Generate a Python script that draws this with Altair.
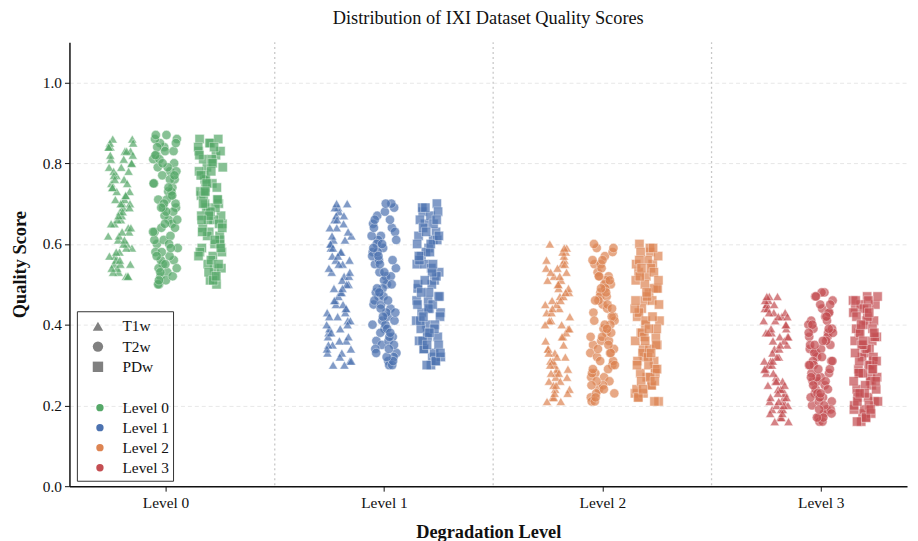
import altair as alt
import pandas as pd

levels = ["Level 0", "Level 1", "Level 2", "Level 3"]
modalities = ["T1w", "T2w", "PDw"]
level_colors = ["#55a868", "#4c72b0", "#dd8452", "#c44e52"]
modality_shapes = ["triangle-up", "circle", "square"]

# quality scores, per level and modality
l0_t1w = [0.62,0.81,0.55,0.73,0.68,0.84,0.52,0.77,0.59,0.70,0.86,0.64,0.53,0.79,0.71,0.57,0.83,0.66,0.75,0.60,0.54,0.82,0.69,0.78,0.63,0.58,0.85,0.72,0.56,0.80,0.67,0.74,0.52,0.61,0.84,0.76,0.65,0.70,0.55,0.81,0.59,0.73,0.86,0.68,0.53,0.78,0.62,0.57,0.83,0.71,0.64,0.79,0.54,0.75,0.66,0.85,0.60,0.77,0.69,0.56,0.82,0.72,0.58,0.80,0.63,0.74,0.52,0.67,0.84,0.61,0.76,0.55,0.70,0.65,0.83]
l0_t2w = [0.71,0.56,0.84,0.63,0.78,0.52,0.69,0.87,0.60,0.74,0.55,0.81,0.66,0.50,0.76,0.83,0.58,0.72,0.64,0.86,0.53,0.79,0.68,0.61,0.75,0.57,0.85,0.70,0.51,0.82,0.65,0.77,0.59,0.73,0.54,0.80,0.67,0.86,0.62,0.56,0.78,0.71,0.84,0.52,0.69,0.75,0.60,0.81,0.64,0.55,0.87,0.73,0.58,0.66,0.79,0.50,0.83,0.70,0.61,0.76,0.53,0.85,0.68,0.57,0.72,0.80,0.63,0.74,0.51,0.77,0.65,0.82,0.59,0.69,0.54]
l0_pdw = [0.68,0.83,0.54,0.76,0.61,0.85,0.72,0.50,0.79,0.65,0.57,0.81,0.70,0.63,0.86,0.52,0.74,0.67,0.80,0.59,0.71,0.55,0.84,0.66,0.77,0.62,0.51,0.73,0.82,0.69,0.58,0.75,0.64,0.86,0.53,0.78,0.60,0.70,0.83,0.56,0.67,0.74,0.62,0.79,0.51,0.72,0.65,0.85,0.58,0.69,0.76,0.54,0.81,0.63,0.71,0.66,0.57,0.84,0.73,0.60,0.68,0.77,0.52,0.75,0.64,0.80,0.70,0.55,0.67,0.82,0.61,0.73,0.59,0.78,0.66]
l1_t1w = [0.45,0.62,0.33,0.57,0.41,0.69,0.38,0.52,0.66,0.31,0.48,0.59,0.36,0.64,0.43,0.55,0.30,0.50,0.68,0.39,0.61,0.46,0.34,0.58,0.53,0.70,0.42,0.37,0.65,0.49,0.56,0.32,0.60,0.44,0.67,0.40,0.51,0.35,0.63,0.47,0.54,0.30,0.69,0.41,0.58,0.38,0.50,0.66,0.33,0.45,0.61,0.52,0.36,0.64,0.43,0.56,0.31,0.48,0.62,0.40,0.57,0.35,0.67,0.46,0.53,0.39,0.60,0.44,0.70,0.34,0.49,0.59,0.37,0.55,0.42]
l1_t2w = [0.52,0.36,0.64,0.41,0.58,0.31,0.47,0.69,0.39,0.55,0.44,0.62,0.33,0.50,0.67,0.37,0.59,0.45,0.30,0.53,0.63,0.40,0.48,0.70,0.35,0.57,0.42,0.61,0.32,0.51,0.46,0.66,0.38,0.54,0.43,0.60,0.30,0.49,0.65,0.36,0.56,0.41,0.68,0.34,0.52,0.45,0.62,0.39,0.58,0.31,0.47,0.64,0.37,0.55,0.43,0.70,0.33,0.50,0.60,0.40,0.46,0.57,0.35,0.53,0.66,0.38,0.44,0.61,0.32,0.49,0.56,0.42,0.59,0.34,0.48]
l1_pdw = [0.63,0.40,0.55,0.32,0.68,0.47,0.59,0.36,0.51,0.65,0.43,0.30,0.57,0.70,0.38,0.49,0.61,0.34,0.53,0.44,0.66,0.31,0.58,0.41,0.50,0.69,0.37,0.46,0.62,0.33,0.55,0.42,0.67,0.39,0.52,0.30,0.60,0.45,0.64,0.35,0.48,0.56,0.40,0.69,0.32,0.54,0.43,0.61,0.37,0.50,0.65,0.34,0.47,0.58,0.41,0.31,0.63,0.46,0.53,0.36,0.68,0.44,0.57,0.39,0.51,0.33,0.60,0.48,0.66,0.35,0.45,0.55,0.42,0.62,0.38]
l2_t1w = [0.35,0.52,0.24,0.47,0.31,0.58,0.28,0.43,0.55,0.22,0.39,0.49,0.26,0.56,0.33,0.45,0.21,0.41,0.59,0.29,0.51,0.37,0.25,0.48,0.44,0.60,0.32,0.27,0.54,0.40,0.46,0.23,0.50,0.34,0.57,0.30,0.42,0.26,0.53,0.38,0.45,0.21,0.58,0.31,0.49,0.28,0.41,0.55,0.24,0.36,0.51,0.43,0.27,0.54,0.34,0.47,0.22,0.39,0.52,0.30,0.48,0.25,0.56,0.37,0.44,0.29,0.50,0.33,0.59,0.23,0.40,0.46,0.28,0.53,0.32]
l2_t2w = [0.42,0.27,0.55,0.33,0.48,0.22,0.38,0.59,0.30,0.45,0.35,0.52,0.24,0.41,0.57,0.28,0.50,0.36,0.21,0.44,0.53,0.31,0.39,0.60,0.26,0.47,0.33,0.51,0.23,0.42,0.37,0.56,0.29,0.46,0.34,0.50,0.21,0.40,0.55,0.27,0.47,0.32,0.58,0.25,0.43,0.36,0.52,0.30,0.49,0.22,0.38,0.54,0.28,0.45,0.34,0.59,0.24,0.41,0.51,0.31,0.37,0.48,0.26,0.44,0.56,0.29,0.35,0.52,0.23,0.40,0.46,0.33,0.49,0.25,0.39]
l2_pdw = [0.53,0.31,0.46,0.23,0.58,0.38,0.49,0.27,0.42,0.55,0.34,0.21,0.48,0.60,0.29,0.40,0.51,0.25,0.44,0.35,0.56,0.22,0.49,0.32,0.41,0.59,0.28,0.37,0.52,0.24,0.46,0.33,0.57,0.30,0.43,0.21,0.50,0.36,0.54,0.26,0.39,0.47,0.31,0.59,0.23,0.45,0.34,0.52,0.28,0.41,0.55,0.25,0.38,0.49,0.32,0.22,0.53,0.37,0.44,0.27,0.58,0.35,0.48,0.30,0.42,0.24,0.51,0.39,0.56,0.26,0.36,0.46,0.33,0.54,0.29]
l3_t1w = [0.28,0.42,0.19,0.37,0.24,0.46,0.22,0.34,0.44,0.17,0.31,0.39,0.20,0.45,0.26,0.36,0.16,0.32,0.47,0.23,0.41,0.29,0.19,0.38,0.35,0.47,0.25,0.21,0.43,0.31,0.37,0.18,0.40,0.27,0.45,0.24,0.33,0.20,0.42,0.30,0.36,0.16,0.46,0.24,0.39,0.22,0.32,0.44,0.19,0.28,0.41,0.34,0.21,0.43,0.26,0.38,0.17,0.30,0.42,0.23,0.38,0.20,0.45,0.29,0.35,0.22,0.40,0.26,0.47,0.18,0.31,0.37,0.21,0.43,0.25]
l3_t2w = [0.33,0.21,0.44,0.26,0.38,0.17,0.30,0.48,0.23,0.35,0.27,0.41,0.19,0.32,0.46,0.22,0.39,0.28,0.16,0.34,0.42,0.24,0.31,0.48,0.20,0.37,0.26,0.40,0.18,0.33,0.29,0.45,0.22,0.36,0.27,0.39,0.16,0.31,0.43,0.21,0.37,0.25,0.47,0.19,0.34,0.28,0.41,0.23,0.38,0.17,0.30,0.43,0.22,0.35,0.26,0.47,0.18,0.32,0.40,0.24,0.29,0.38,0.20,0.35,0.45,0.23,0.27,0.42,0.17,0.31,0.36,0.25,0.39,0.19,0.30]
l3_pdw = [0.41,0.24,0.36,0.18,0.46,0.30,0.38,0.21,0.33,0.44,0.27,0.16,0.37,0.47,0.23,0.31,0.40,0.19,0.34,0.28,0.45,0.17,0.39,0.25,0.32,0.47,0.22,0.29,0.41,0.19,0.36,0.26,0.45,0.24,0.34,0.16,0.39,0.28,0.43,0.20,0.31,0.37,0.25,0.46,0.18,0.35,0.27,0.42,0.22,0.32,0.44,0.20,0.30,0.38,0.26,0.17,0.42,0.29,0.35,0.21,0.46,0.28,0.38,0.23,0.33,0.19,0.40,0.31,0.44,0.21,0.29,0.36,0.26,0.43,0.23]

groups = {
    ("Level 0", "T1w"): l0_t1w, ("Level 0", "T2w"): l0_t2w, ("Level 0", "PDw"): l0_pdw,
    ("Level 1", "T1w"): l1_t1w, ("Level 1", "T2w"): l1_t2w, ("Level 1", "PDw"): l1_pdw,
    ("Level 2", "T1w"): l2_t1w, ("Level 2", "T2w"): l2_t2w, ("Level 2", "PDw"): l2_pdw,
    ("Level 3", "T1w"): l3_t1w, ("Level 3", "T2w"): l3_t2w, ("Level 3", "PDw"): l3_pdw,
}

# layout (dodge + deterministic strip jitter), not data
mod_offset = {"T1w": -0.205, "T2w": 0.0, "PDw": 0.205}
rows = []
for (lev, mod), vals in groups.items():
    li = levels.index(lev)
    for i, v in enumerate(vals):
        j = ((i * 0.6180339887 + li * 0.37 + modalities.index(mod) * 0.21) % 1.0 - 0.5) * 0.115
        rows.append({"level": lev, "modality": mod, "score": v,
                     "xpos": li + mod_offset[mod] + j})
df = pd.DataFrame(rows)

FONT = "Liberation Serif"
xscale = alt.Scale(domain=[-0.44, 3.395], nice=False, zero=False)

sep = alt.Chart(pd.DataFrame({"b": [0.5, 1.5, 2.5]})).mark_rule(
    color="#c8c8c8", strokeDash=[2, 3], strokeWidth=1.3
).encode(x=alt.X("b:Q", scale=xscale))

points = alt.Chart(df).mark_point(
    filled=True, size=88, opacity=0.7, stroke="white", strokeWidth=0.5
).encode(
    x=alt.X("xpos:Q", scale=xscale,
            axis=alt.Axis(values=[0, 1, 2, 3], labelExpr="'Level ' + datum.value",
                          title="Degradation Level", grid=False)),
    y=alt.Y("score:Q", scale=alt.Scale(domain=[0, 1.1], nice=False),
            axis=alt.Axis(values=[0, 0.2, 0.4, 0.6, 0.8, 1.0], format=".1f",
                          title="Quality Score", grid=True)),
    color=alt.Color("level:N", scale=alt.Scale(domain=levels, range=level_colors),
                    legend=alt.Legend(title=None, orient="none", legendX=23, legendY=361,
                                      symbolType="circle", symbolSize=55, symbolOpacity=1,
                                      symbolStrokeWidth=0, labelOffset=15, rowPadding=3.2,
                                      labelFont=FONT, labelFontSize=15.5, labelColor="#111111",
                                      padding=0)),
    shape=alt.Shape("modality:N", scale=alt.Scale(domain=modalities, range=modality_shapes),
                    legend=alt.Legend(title=None, orient="none", legendX=21, legendY=279,
                                      symbolSize=110, symbolFillColor="#808080",
                                      symbolStrokeColor="#808080", symbolStrokeWidth=0,
                                      symbolOpacity=1, labelOffset=17, rowPadding=3.4,
                                      labelFont=FONT, labelFontSize=15.5, labelColor="#111111",
                                      padding=0)),
)

frame = alt.Chart(pd.DataFrame({"k": [0]})).mark_rect(
    filled=False, stroke="#333333", strokeWidth=1
).encode(x=alt.value(8), x2=alt.value(105), y=alt.value(272), y2=alt.value(443))

chart = alt.layer(sep, points, frame).properties(
    width=845, height=448,
    title=alt.TitleParams("Distribution of IXI Dataset Quality Scores", font=FONT,
                          fontSize=18.5, fontWeight="normal", offset=14, color="#111111"),
    autosize=alt.AutoSizeParams(type="none"),
    padding={"left": 62, "top": 32, "right": 3, "bottom": 70},
).configure_view(stroke=None).configure_axis(
    domainColor="#111111", domainWidth=1.5, tickColor="#111111", tickSize=5,
    labelFont=FONT, labelFontSize=15.5, labelColor="#111111",
    titleFont=FONT, titleFontSize=18.5, titleFontWeight="bold", titleColor="#111111",
    gridColor="#e0e0e0", gridDash=[4, 3], gridWidth=0.8,
).configure_axisY(titlePadding=13, labelPadding=3).configure_axisX(titlePadding=12, labelPadding=4)

chart.save("out.html", embed_options={"renderer": "svg", "actions": False})
